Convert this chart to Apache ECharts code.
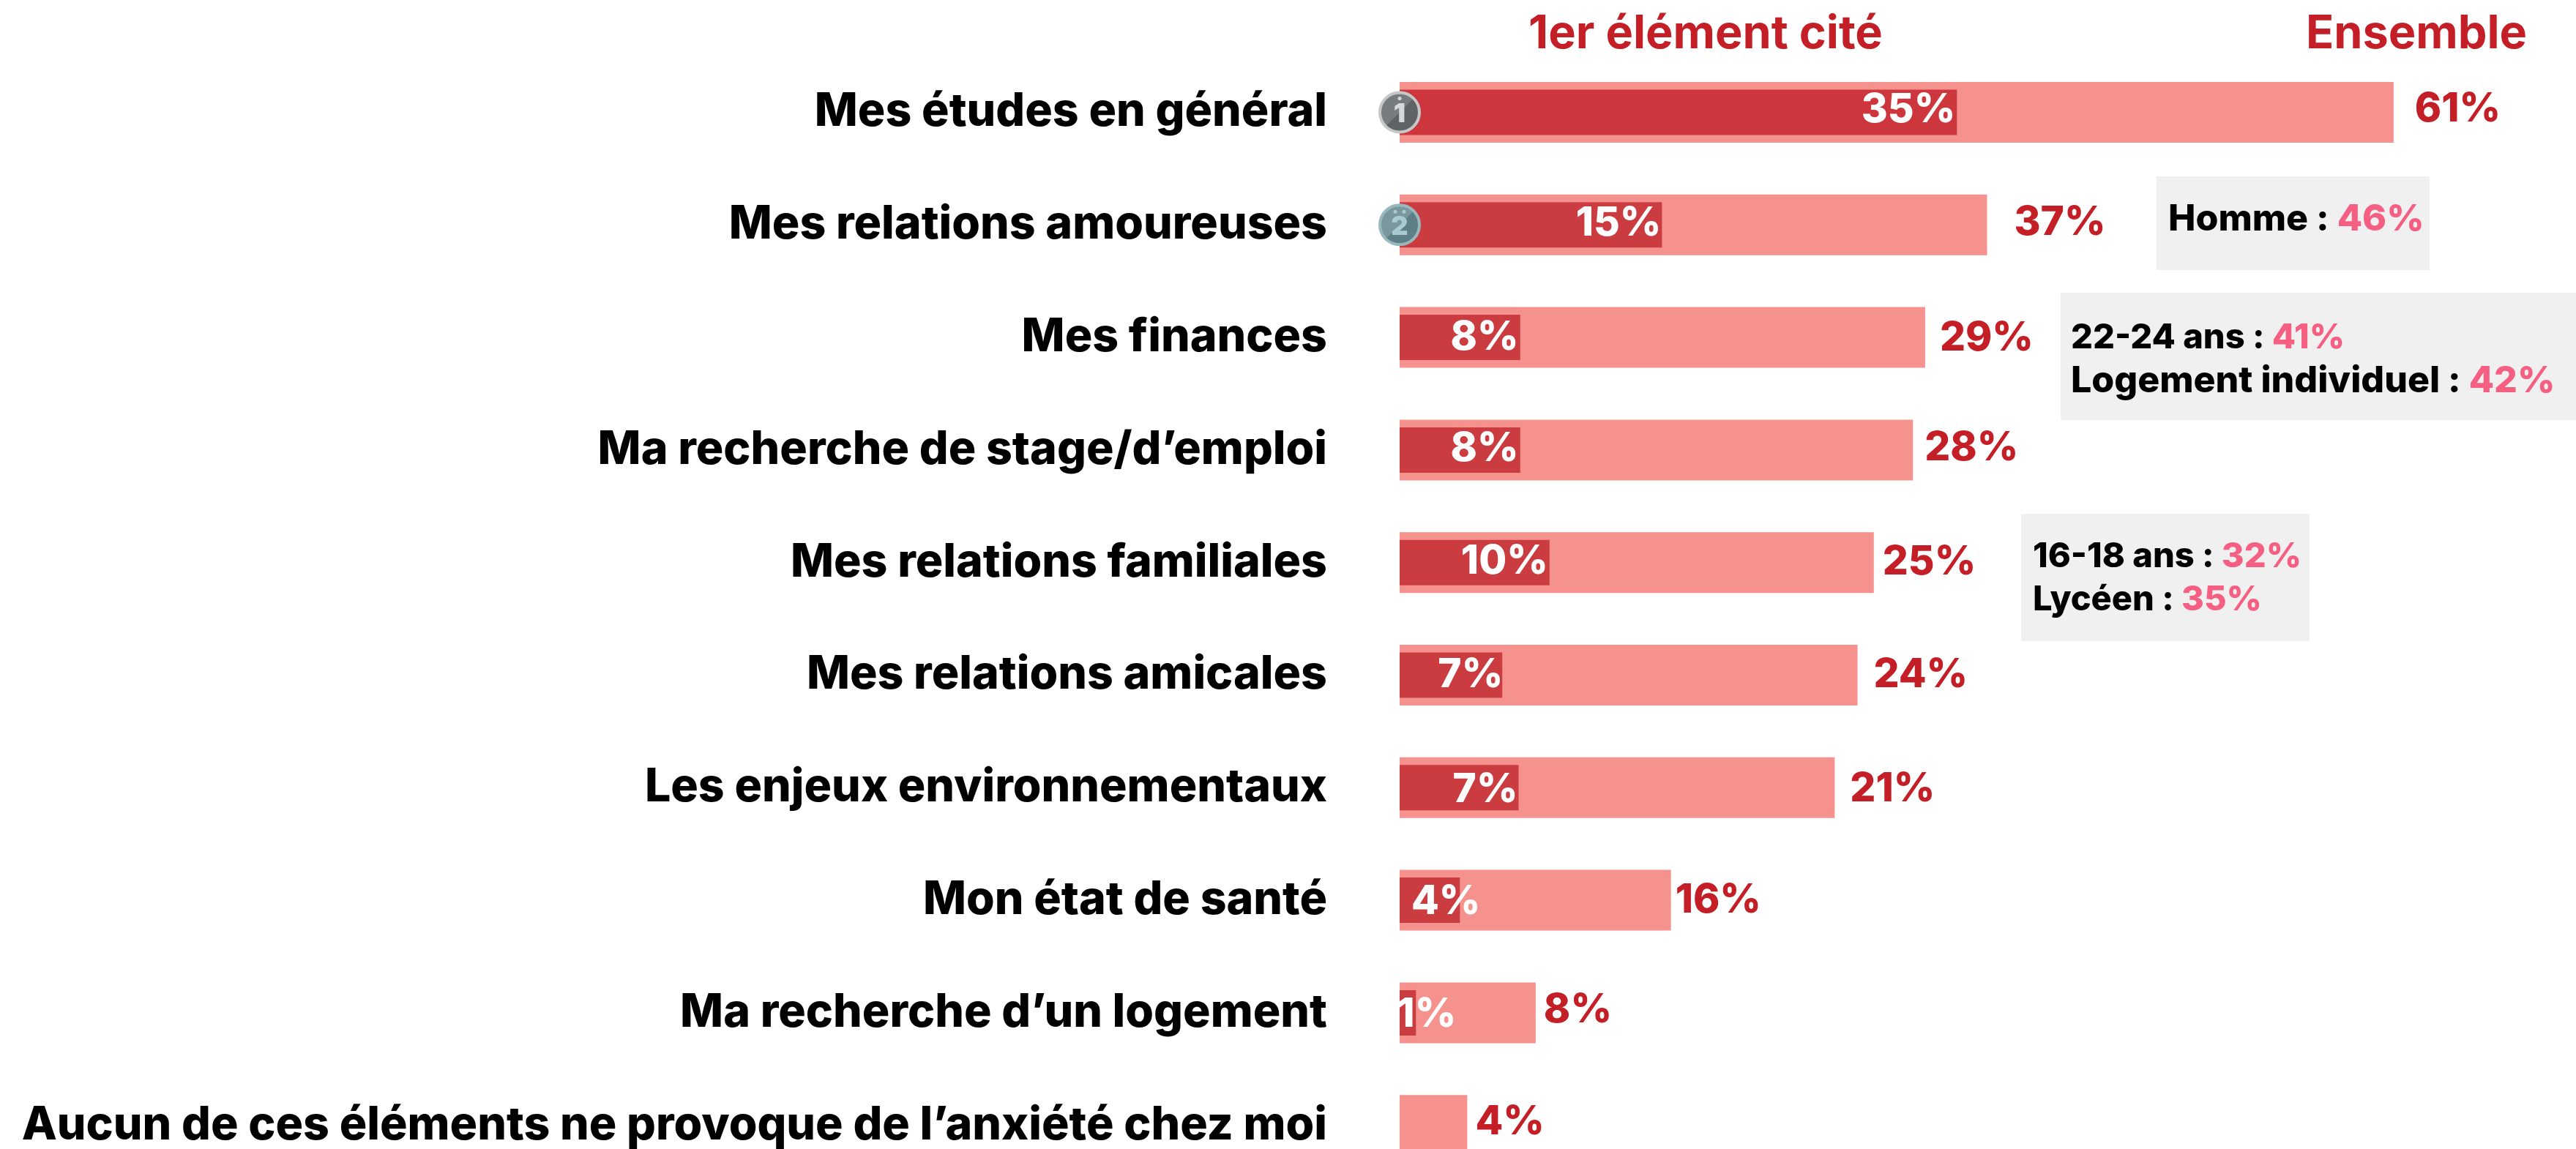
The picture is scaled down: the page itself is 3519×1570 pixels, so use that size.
<!DOCTYPE html>
<html><head><meta charset="utf-8">
<style>html,body{margin:0;padding:0;background:#fff}#c{width:3519px;height:1570px}</style>
<script src="https://cdn.jsdelivr.net/npm/echarts@6/dist/echarts.min.js"></script>
</head><body><div id="c"></div>
<script>
const categories = ["Mes études en général","Mes relations amoureuses","Mes finances","Ma recherche de stage/d’emploi","Mes relations familiales","Mes relations amicales","Les enjeux environnementaux","Mon état de santé","Ma recherche d’un logement","Aucun de ces éléments ne provoque de l’anxiété chez moi"];
// Printed percentages
const ensembleLabels = ["61%","37%","29%","28%","25%","24%","21%","16%","8%","4%"];
const premierLabels = ["35%","15%","8%","8%","10%","7%","7%","4%","1%",""];
// Bar lengths as drawn in the picture (the picture's bars are not strictly proportional to their labels)
const ensembleLengths = [61,36.05,32.25,31.5,29.1,28.1,26.7,16.65,8.35,4.15];
const premierLengths = [34.2,16.1,7.4,7.4,9.2,6.3,7.3,3.7,1.0,null];
const headers = ["1er élément cité","Ensemble"];
const callouts = [
  [["Homme : ","46%"]],
  [["22-24 ans : ","41%"],["Logement individuel : ","42%"]],
  [["16-18 ans : ","32%"],["Lycéen : ","35%"]]
];
const badges = [[0,0,"1"],[0,1,"2"]];

const FONT = "Inter";
const RED="#C41F26", PINK="#F6928E", DARK="#CB3C40", HOT="#F45F82";
const outerGap=[29,37,20,16,12,22,21,6,11,11];
const outerLift=[-4,-3,1,-2,0,0,2,0,-3,-4];
const innerShift=[[-2,-3],[-1,-2],[-2,0],[-2,-1],[-2,-1],[1,0],[-1,3],[28,2],[55,3],[0,0]];

const chart = echarts.init(document.getElementById('c'));
const boxes=[
 {x:2946,y:241,w:373,h:128,tx:2962,ty:[300],fs:[50]},
 {x:2815,y:400,w:704,h:174,tx:2829,ty:[462,521],fs:[47,50]},
 {x:2761,y:702,w:394,h:174,tx:2777,ty:[761,820],fs:[47,47]}
];
const graphic=[];
boxes.forEach((b,i)=>{
  graphic.push({type:'rect',z:1,shape:{x:b.x,y:b.y,width:b.w,height:b.h},style:{fill:'#F0F0F0'},silent:true});
  callouts[i].forEach((ln,j)=>{
    graphic.push({type:'text',z:2,x:b.tx,y:b.ty[j],style:{
      text:`{k|${ln[0]}}{v|${ln[1]}}`,verticalAlign:'middle',align:'left',
      rich:{k:{fontFamily:FONT,fontWeight:800,fontSize:b.fs[j],fill:'#000',color:'#000'},
            v:{fontFamily:FONT,fontWeight:800,fontSize:b.fs[j],fill:HOT,color:HOT}}
    }});
  });
});
graphic.push({type:'text',x:2330,y:47,style:{text:headers[0],fontFamily:FONT,fontWeight:700,fontSize:63,fill:RED,align:'center',verticalAlign:'middle'}});
graphic.push({type:'text',x:3301,y:47,style:{text:headers[1],fontFamily:FONT,fontWeight:700,fontSize:63,fill:RED,align:'center',verticalAlign:'middle'}});

const badgeStyle=[
 {c:new echarts.graphic.LinearGradient(0,0,1,1,[{offset:0,color:'#777C7E'},{offset:.5,color:'#777C7E'},{offset:.5,color:'#5F6366'},{offset:1,color:'#5F6366'}]),b:'#C6C8C8',t:'#D5D9DA'},
 {c:new echarts.graphic.LinearGradient(0,0,1,1,[{offset:0,color:'#7A979D'},{offset:.5,color:'#7A979D'},{offset:.5,color:'#5E7F85'},{offset:1,color:'#5E7F85'}]),b:'#97B8BC',t:'#A9CBD0'}
];
const badgeDots=[[0,-19,0],[-6,-18,1],[6,-18,1]];

chart.setOption({
  animation:false,
  backgroundColor:'#fff',
  graphic,
  grid:{left:1912,top:76.6,width:1558.2,height:1538,outerBoundsMode:'none',containLabel:false},
  xAxis:[0,1].map(()=>({type:'value',min:0,max:70,show:false})),
  yAxis:[0,1].map(i=>({type:'category',inverse:true,data:categories,
    axisLine:{show:false},axisTick:{show:false},splitLine:{show:false},
    axisLabel:i===0?{show:true,interval:0,margin:99,fontFamily:FONT,fontWeight:800,fontSize:62.6,color:'#000',align:'right',verticalAlign:'middle',padding:[0,0,8,0]}:{show:false}
  })),
  series:[
    {type:'bar',xAxisIndex:0,yAxisIndex:0,barWidth:83,z:2,
     data:ensembleLengths.map((v,i)=>({value:v,itemStyle:{color:PINK},
       label:{show:true,position:'right',distance:outerGap[i],offset:[0,outerLift[i]],formatter:ensembleLabels[i],
         fontFamily:FONT,fontWeight:800,fontSize:55,color:RED}}))},
    {type:'bar',xAxisIndex:1,yAxisIndex:1,barWidth:62,z:3,
     data:premierLengths.map((v,i)=>({value:v,itemStyle:{color:i===0?'#CC363C':DARK},
       label:{show:!!premierLabels[i],position:'insideRight',distance:0,offset:innerShift[i],formatter:premierLabels[i],
         fontFamily:FONT,fontWeight:800,fontSize:55,color:'#fff'}}))},
    {type:'scatter',xAxisIndex:1,yAxisIndex:1,z:5,symbol:'circle',symbolSize:54,
     data:badges.map((b,i)=>({value:[b[0],b[1]],
       itemStyle:{color:badgeStyle[i].c,borderColor:badgeStyle[i].b,borderWidth:4,opacity:1},
       label:{show:true,position:'inside',formatter:b[2],fontFamily:FONT,fontWeight:900,fontSize:36,color:badgeStyle[i].t,offset:[0,3]}}))},
    {type:'scatter',xAxisIndex:1,yAxisIndex:1,z:6,symbol:'circle',symbolSize:5,silent:true,
     data:badgeDots.map(d=>({value:[0,d[2]],symbolOffset:[d[0],d[1]],itemStyle:{color:badgeStyle[d[2]].t,opacity:1}}))}
  ]
});
</script></body></html>
